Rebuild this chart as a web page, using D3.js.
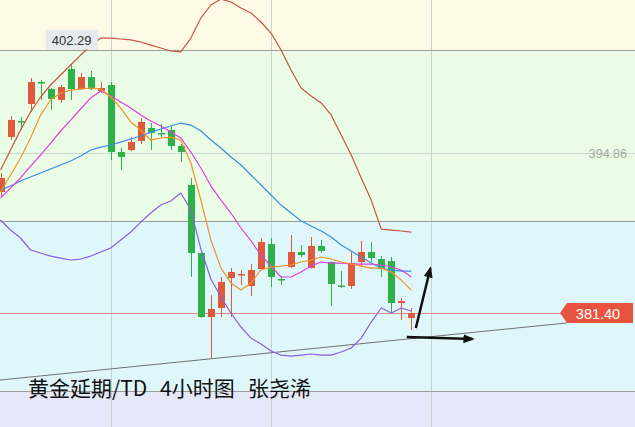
<!DOCTYPE html>
<html><head><meta charset="utf-8">
<script src="https://cdn.jsdelivr.net/npm/d3@7"></script>
<style>html,body{margin:0;padding:0;overflow:hidden;background:#fff}</style>
</head><body>
<svg id="c" width="635" height="427"></svg>
<script>
// ---- data (4-hour candles) ----
const openP  = [391.58,396.21,397.55,398.98,400.83,400.24,399.32,401.93,400.24,401.25,400.08,400.58,394.94,395.11,395.87,396.96,396.54,396.80,395.45,392.17,386.45,381.06,381.82,384.34,384.64,383.67,385.10,387.20,384.26,385.27,386.53,385.19,387.04,385.69,383.71,383.67,385.69,386.53,385.94,385.77,382.24,380.98];
const highP  = [393.18,397.97,397.89,401.17,401.00,400.33,400.58,402.29,401.59,401.76,400.83,400.83,395.28,396.21,397.80,397.38,397.30,397.05,395.62,392.76,386.50,382.91,384.43,385.19,385.02,385.52,387.71,387.71,384.51,387.96,387.12,387.79,387.54,385.75,384.93,386.53,387.46,387.37,386.20,386.11,382.66,381.82];
const lowP   = [391.24,395.95,396.80,398.31,399.32,398.48,399.07,399.32,400.16,400.16,399.91,394.27,393.43,395.03,395.62,395.11,396.21,395.11,394.10,384.43,381.00,377.61,381.06,381.06,383.75,382.83,385.10,383.59,383.75,385.19,386.11,385.15,386.45,381.99,383.50,383.42,385.27,385.69,384.43,381.40,380.81,379.97];
const closeP = [392.76,397.64,397.47,400.83,400.75,399.40,400.41,400.24,401.25,400.24,400.33,394.94,394.52,395.79,397.47,396.54,396.46,395.45,394.94,386.45,381.06,381.74,384.01,384.85,384.68,385.02,387.37,384.43,384.18,386.53,386.28,387.04,386.62,383.84,383.67,385.61,386.53,386.03,385.10,382.24,382.41,381.40];

const ma5  = [391.58,393.01,394.44,396.12,398.05,399.32,399.91,400.16,400.24,400.33,400.24,399.57,398.64,397.47,396.79,395.95,396.12,396.20,395.95,394.02,390.90,387.54,385.18,383.92,383.33,383.92,385.02,385.27,385.35,385.44,385.69,385.86,386.11,385.94,385.69,385.52,385.35,385.18,385.18,384.85,384.17,383.33];
const ma10 = [391.07,391.91,392.76,393.76,394.69,395.70,396.71,397.63,398.56,399.49,400.07,399.65,399.15,398.64,398.05,397.55,397.13,396.62,396.12,394.94,393.60,392.08,390.90,389.81,388.55,387.46,386.28,385.35,384.43,384.43,384.85,385.35,385.69,385.60,385.60,385.52,385.52,385.52,385.44,385.27,385.02,384.43];
const ma20 = [391.75,392.08,392.50,392.84,393.18,393.51,393.85,394.19,394.61,395.11,395.36,395.53,395.78,396.04,396.29,396.62,396.88,397.13,397.38,397.21,396.71,395.95,395.28,394.52,393.85,393.01,392.17,391.33,390.48,389.81,389.14,388.72,388.30,387.79,387.12,386.61,386.11,385.60,385.18,385.02,384.93,384.93];
const bollUp  = [393.43,395.11,396.79,398.31,399.57,400.58,401.42,402.26,403.10,403.86,404.53,404.53,404.45,404.37,404.20,403.94,403.69,403.44,403.36,404.53,406.22,407.31,407.81,407.56,407.06,406.64,405.88,404.95,403.52,401.84,400.33,399.66,399.07,398.06,396.37,394.69,392.76,390.90,388.46,388.38,388.30,388.21];
const bollLow = [389.22,388.38,387.71,386.70,386.45,386.19,386.02,385.86,385.94,386.19,386.53,386.87,387.54,388.21,389.05,389.81,390.48,390.82,391.49,390.06,386.78,384.26,382.74,381.40,380.22,379.29,378.79,378.20,377.86,377.78,377.86,377.95,377.86,377.86,378.12,378.46,379.29,380.64,381.82,381.40,381.82,381.57];

const priceTicks = [381.40, 394.86];       // labelled price levels
const lastPrice = 381.40;
const refLevel = 394.86;
const bandEdges = [403.52, 389.14, 374.84]; // background zone boundaries
const gridIdx = [11, 27, 43];              // vertical grid candles
const trendLine = [[-0.05, 375.76], [56.5, 380.56]];
const arrows = [
  [[41.45, 380.14], [42.9, 385.15]],
  [[40.55, 379.38], [47.1, 379.21]]
];
const titleParts = ["黄金延期/TD", "4小时图", "张尧浠"];

// ---- chart ----
const W = 635, H = 427;
const svg = d3.select("#c");
const xs = d3.scaleLinear().domain([0, 41]).range([0.5, 411.3]);
const ys = d3.scaleLinear().domain([priceTicks[0], priceTicks[1]]).range([313, 153]);

// background zones
const bandColors = ["#fffae6", "#eafbe6", "#dff7fa", "#e6e8fa"];
const edgesPx = [0, ...bandEdges.map(ys), H];
bandColors.forEach((c, i) => {
  svg.append("rect").attr("x", 0).attr("y", edgesPx[i]).attr("width", W)
    .attr("height", edgesPx[i + 1] - edgesPx[i]).attr("fill", c);
});

// vertical grid
gridIdx.forEach(g => {
  svg.append("line").attr("x1", Math.round(xs(g)) + 0.5).attr("x2", Math.round(xs(g)) + 0.5)
    .attr("y1", 0).attr("y2", H).attr("stroke", "#c9d2cc").attr("stroke-width", 1);
});
// reference level line
svg.append("line").attr("x1", 0).attr("x2", W)
  .attr("y1", Math.round(ys(refLevel)) + 0.5).attr("y2", Math.round(ys(refLevel)) + 0.5)
  .attr("stroke", "#cdd6cf").attr("stroke-width", 1);
svg.append("text").attr("x", 627).attr("y", ys(refLevel) + 4.5).attr("text-anchor", "end")
  .attr("font-family", "Liberation Sans, Arial, sans-serif").attr("font-size", 12.5)
  .attr("fill", "#a3aba5").text(d3.format(".2f")(refLevel));

// zone edge lines
bandEdges.forEach((b, i) => {
  svg.append("line").attr("x1", 0).attr("x2", W)
    .attr("y1", Math.round(ys(b)) + 0.5).attr("y2", Math.round(ys(b)) + 0.5)
    .attr("stroke", i === 1 ? "#9a98a6" : "#9c9c9c").attr("stroke-width", 1);
});

// trend line
svg.append("line")
  .attr("x1", xs(trendLine[0][0])).attr("y1", ys(trendLine[0][1]))
  .attr("x2", xs(trendLine[1][0])).attr("y2", ys(trendLine[1][1]))
  .attr("stroke", "#707070").attr("stroke-width", 1);

// last price line
svg.append("line").attr("x1", 0).attr("x2", 562)
  .attr("y1", Math.round(ys(lastPrice)) + 0.5).attr("y2", Math.round(ys(lastPrice)) + 0.5)
  .attr("stroke", "#d98c84").attr("stroke-width", 1);

// candles
const idx = d3.range(openP.length);
const up = "#dd5b3c", down = "#2db24a";
idx.forEach(i => {
  const o = openP[i], c = closeP[i], h = highP[i], l = lowP[i];
  const col = c >= o ? up : down;
  const cx = Math.round(xs(i)) + 0.5;
  svg.append("line").attr("x1", cx).attr("x2", cx).attr("y1", ys(h)).attr("y2", ys(l))
    .attr("stroke", col).attr("stroke-width", 1);
  const top = ys(Math.max(o, c)), bot = ys(Math.min(o, c));
  svg.append("rect").attr("x", cx - 3.5).attr("y", top).attr("width", 7)
    .attr("height", Math.max(1.5, bot - top)).attr("fill", col);
});

// indicator lines
const line = d3.line().x((d, i) => xs(i)).y(d => ys(d));
const series = [
  [bollUp, "#c65540"], [bollLow, "#8a5fe0"],
  [ma20, "#3a8de6"], [ma10, "#e23ee0"], [ma5, "#f0952a"]
];
series.forEach(([s, c]) => {
  svg.append("path").attr("d", line(s)).attr("fill", "none")
    .attr("stroke", c).attr("stroke-width", 1.2).attr("stroke-linejoin", "round");
});

// max label
const maxI = d3.maxIndex(highP);
const mx = xs(maxI), my = ys(highP[maxI]);
svg.append("rect").attr("x", mx - 25).attr("y", my - 35).attr("width", 52).attr("height", 20)
  .attr("fill", "#e6eaec");
svg.append("text").attr("x", mx + 1).attr("y", my - 20).attr("text-anchor", "middle")
  .attr("font-family", "Liberation Sans, Arial, sans-serif").attr("font-size", 13)
  .attr("fill", "#333").text(d3.format(".2f")(highP[maxI]));

// last price tag
const py = ys(lastPrice);
svg.append("path")
  .attr("d", `M560,${py} L567,${py - 10} L633,${py - 10} L633,${py + 10} L567,${py + 10} Z`)
  .attr("fill", "#e8533f");
svg.append("text").attr("x", 598).attr("y", py + 5.5).attr("text-anchor", "middle")
  .attr("font-family", "Liberation Sans, Arial, sans-serif").attr("font-size", 14.5)
  .attr("fill", "#fff").text(d3.format(".2f")(lastPrice));

// arrows
const defs = svg.append("defs");
defs.append("marker").attr("id", "ah").attr("viewBox", "0 0 10 10").attr("refX", 8).attr("refY", 5)
  .attr("markerWidth", 4.5).attr("markerHeight", 4.5).attr("orient", "auto")
  .append("path").attr("d", "M0,1 L10,5 L0,9 Z").attr("fill", "#111");
arrows.forEach(a => {
  svg.append("line").attr("x1", xs(a[0][0])).attr("y1", ys(a[0][1]))
    .attr("x2", xs(a[1][0])).attr("y2", ys(a[1][1]))
    .attr("stroke", "#111").attr("stroke-width", 2.5).attr("marker-end", "url(#ah)");
});

// title
const t = svg.append("text").attr("y", 396)
  .attr("font-family", "Noto Sans CJK SC, sans-serif").attr("font-size", 21).attr("fill", "#111");
const tx = [28, 160, 248];
titleParts.forEach((p, i) => t.append("tspan").attr("x", tx[i]).text(p));
</script>
</body></html>
